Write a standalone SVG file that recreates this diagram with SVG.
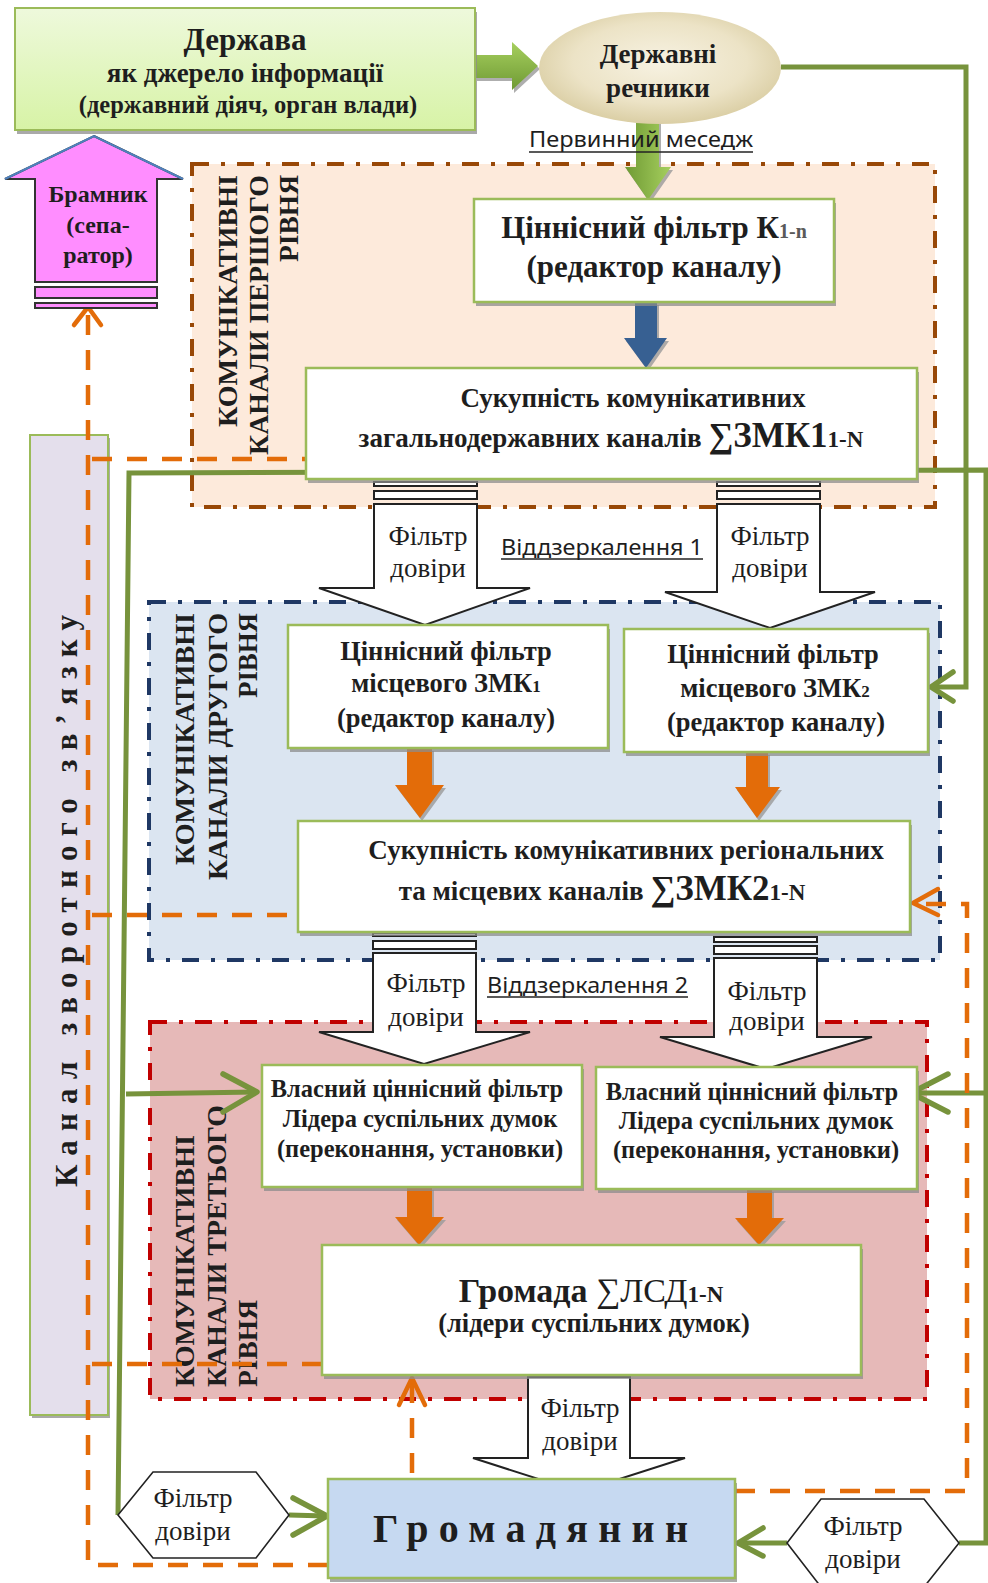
<svg xmlns="http://www.w3.org/2000/svg" width="988" height="1583" viewBox="0 0 988 1583">
<defs>
<linearGradient id="gDerzh" x1="0" y1="0" x2="0" y2="1"><stop offset="0" stop-color="#eef9dc"/><stop offset="1" stop-color="#d7f3a6"/></linearGradient>
<radialGradient id="gEll" cx="0.5" cy="0.45" r="0.6"><stop offset="0" stop-color="#f7f2e2"/><stop offset="0.6" stop-color="#ece3c6"/><stop offset="1" stop-color="#d6c99c"/></radialGradient>
<linearGradient id="gGreenH" x1="0" y1="0" x2="0" y2="1"><stop offset="0" stop-color="#a6cf5e"/><stop offset="1" stop-color="#6f9a34"/></linearGradient>
<linearGradient id="gGreenV" x1="0" y1="0" x2="1" y2="0"><stop offset="0" stop-color="#6f9a34"/><stop offset="1" stop-color="#a6cf5e"/></linearGradient>
<style>
.box{fill:#fff;stroke:#9bbb59;stroke-width:2.5}
.sh{fill:#8c8c8c;opacity:0.75}
.ash{fill:#9a9a9a;opacity:0.8}
.tb{font-family:"Liberation Serif","Times New Roman",serif;font-weight:bold;fill:#1e1e1e}
.tr{font-family:"Liberation Serif","Times New Roman",serif;fill:#1e1e1e}
.ts{font-family:"Noto Sans","Liberation Sans",sans-serif;fill:#1e1e1e}
.reg{stroke-width:4;stroke-dasharray:17 12 4 12}
.g{stroke:#77933c;stroke-width:5;fill:none}
.gh{stroke:#77933c;stroke-width:5.5;fill:none;stroke-linecap:round;stroke-linejoin:round}
.o{stroke:#e36c09;stroke-width:4.5;fill:none;stroke-dasharray:20 15}
.oh{stroke:#e36c09;stroke-width:4.5;fill:none;stroke-linecap:round;stroke-linejoin:round}
.fa{fill:#fff;stroke:#222;stroke-width:2}
.ul{stroke:#222;stroke-width:1.6}
.orange{fill:#e36c09}
</style>
</defs>

<!-- regions -->
<g id="region1">
<rect x="192" y="164" width="743" height="343" fill="#fdeadb" stroke="#984807" class="reg"/>
<text class="tb" font-size="27" text-anchor="end" transform="translate(237,175) rotate(-90)" textLength="252" lengthAdjust="spacingAndGlyphs">КОМУНІКАТИВНІ</text>
<text class="tb" font-size="27" text-anchor="end" transform="translate(268,175) rotate(-90)" textLength="280" lengthAdjust="spacingAndGlyphs">КАНАЛИ ПЕРШОГО</text>
<text class="tb" font-size="27" text-anchor="end" transform="translate(298,175) rotate(-90)" textLength="87" lengthAdjust="spacingAndGlyphs">РІВНЯ</text>
</g>
<g id="region2">
<rect x="149" y="602" width="791" height="358" fill="#dbe5f1" stroke="#1f3864" class="reg"/>
<text class="tb" font-size="27" text-anchor="end" transform="translate(194,613) rotate(-90)" textLength="252" lengthAdjust="spacingAndGlyphs">КОМУНІКАТИВНІ</text>
<text class="tb" font-size="27" text-anchor="end" transform="translate(227,613) rotate(-90)" textLength="267" lengthAdjust="spacingAndGlyphs">КАНАЛИ ДРУГОГО</text>
<text class="tb" font-size="27" text-anchor="end" transform="translate(257,613) rotate(-90)" textLength="85" lengthAdjust="spacingAndGlyphs">РІВНЯ</text>
</g>
<g id="region3">
<rect x="150" y="1022" width="777" height="377" fill="#e6b9b8" stroke="#c00000" class="reg"/>
<text class="tb" font-size="27" transform="translate(194,1387) rotate(-90)" textLength="252" lengthAdjust="spacingAndGlyphs">КОМУНІКАТИВНІ</text>
<text class="tb" font-size="27" transform="translate(226,1387) rotate(-90)" textLength="282" lengthAdjust="spacingAndGlyphs">КАНАЛИ ТРЕТЬОГО</text>
<text class="tb" font-size="27" transform="translate(257,1387) rotate(-90)" textLength="87" lengthAdjust="spacingAndGlyphs">РІВНЯ</text>
</g>

<g id="feedback-channel">
<rect x="32" y="438" width="78" height="980" class="sh"/>
<rect x="30" y="435" width="78" height="980" fill="#e4dfec" stroke="#9bbb59" stroke-width="2"/>
<text class="tb" font-size="31" text-anchor="middle" transform="translate(77,901) rotate(-90)" textLength="572" lengthAdjust="spacing">Канал зворотного зв’язку</text>
</g>

<!-- connectors -->
<g id="connectors">
<polyline class="g" points="781,67 966,67 966,687 932,687"/>
<polyline class="gh" points="953,672 931,687 953,701"/>
<polyline class="g" points="118,1515 129,473 986,470 986,1543 959,1543"/>
<line class="g" x1="126" y1="1094" x2="256" y2="1092"/>
<polyline class="gh" points="223,1074 257,1092 223,1112"/>
<line class="g" x1="986" y1="1093" x2="912" y2="1093"/>
<polyline class="gh" points="948,1074 911,1093 948,1112"/>
<line class="g" x1="289" y1="1515" x2="326" y2="1516"/>
<polyline class="gh" points="293,1498 327,1516 293,1535"/>
<line class="g" x1="787" y1="1543" x2="739" y2="1543"/>
<polyline class="gh" points="763,1528 738,1543 763,1556"/>

<polyline class="o" points="328,1565 88,1565 88,312"/>
<polyline class="oh" points="74,325 88,307 101,325"/>
<line class="o" x1="92" y1="459" x2="306" y2="459"/>
<line class="o" x1="92" y1="915" x2="298" y2="915"/>
<line class="o" x1="92" y1="1364" x2="322" y2="1364"/>
<polyline class="o" points="735,1491 967,1491 967,904 914,904"/>
<polyline class="oh" points="938,889 913,903 938,915"/>
<line class="o" x1="412" y1="1473" x2="412" y2="1380"/>
<polyline class="oh" points="399,1405 412,1378 425,1405"/>
</g>

<!-- block arrows -->
<g id="block-arrows">
<path class="ash" d="M477,58 H514 V45 L540,69 L514,93 V81 H477 Z"/>
<path fill="url(#gGreenH)" d="M475,55 H512 V42 L538,66 L512,90 V78 H475 Z"/>
<path class="ash" d="M638,118 H661 V170 H673 L650,203 L627,170 H638 Z"/>
<path fill="url(#gGreenV)" d="M636,115 H659 V167 H671 L648,200 L625,167 H636 Z"/>
<path class="ash" d="M637,305 H659 V341 H669 L648,371 L626,341 H637 Z"/>
<path fill="#376092" d="M635,302 H657 V338 H667 L646,368 L624,338 H635 Z"/>
<path class="ash" d="M409,751 H434 V788 H446 L422,821 L397,788 H409 Z"/>
<path class="orange" d="M407,748 H432 V785 H444 L420,818 L395,785 H407 Z"/>
<path class="ash" d="M748,755 H770 V790 H782 L759,821 L737,790 H748 Z"/>
<path class="orange" d="M746,752 H768 V787 H780 L757,818 L735,787 H746 Z"/>
<path class="ash" d="M409,1190 H434 V1220 H446 L421,1248 L397,1220 H409 Z"/>
<path class="orange" d="M407,1187 H432 V1217 H444 L419,1245 L395,1217 H407 Z"/>
<path class="ash" d="M749,1192 H774 V1221 H786 L761,1248 L737,1221 H749 Z"/>
<path class="orange" d="M747,1189 H772 V1218 H784 L759,1245 L735,1218 H747 Z"/>
</g>

<!-- filter arrows -->
<g id="filter-1-left">
<rect x="374" y="482" width="103" height="4" class="fa"/>
<rect x="374" y="491" width="103" height="8" class="fa"/>
<path class="fa" d="M374,504 H477 V588 H530 L425,625 L319,588 H374 Z"/>
<text class="tr" font-size="27" text-anchor="middle" x="428" y="545">Фільтр</text>
<text class="tr" font-size="27" text-anchor="middle" x="428" y="577">довіри</text>
</g>
<g id="filter-1-right">
<rect x="717" y="482" width="103" height="4" class="fa"/>
<rect x="717" y="491" width="103" height="8" class="fa"/>
<path class="fa" d="M717,504 H820 V592 H875 L770,628 L665,592 H717 Z"/>
<text class="tr" font-size="27" text-anchor="middle" x="770" y="545">Фільтр</text>
<text class="tr" font-size="27" text-anchor="middle" x="770" y="577">довіри</text>
</g>
<g id="filter-2-left">
<rect x="373" y="933" width="103" height="3" class="fa"/>
<rect x="373" y="941" width="103" height="8" class="fa"/>
<path class="fa" d="M373,953 H476 V1032 H530 L424,1064 L319,1032 H373 Z"/>
<text class="tr" font-size="27" text-anchor="middle" x="426" y="992">Фільтр</text>
<text class="tr" font-size="27" text-anchor="middle" x="426" y="1026">довіри</text>
</g>
<g id="filter-2-right">
<rect x="714" y="937" width="103" height="5" class="fa"/>
<rect x="714" y="946" width="103" height="8" class="fa"/>
<path class="fa" d="M714,958 H817 V1037 H872 L766,1069 L660,1037 H714 Z"/>
<text class="tr" font-size="27" text-anchor="middle" x="767" y="1000">Фільтр</text>
<text class="tr" font-size="27" text-anchor="middle" x="767" y="1030">довіри</text>
</g>
<g id="filter-3">
<rect x="528" y="1356" width="102" height="4" class="fa"/>
<rect x="528" y="1364" width="102" height="9" class="fa"/>
<path class="fa" d="M528,1377 H630 V1458 H685 L579,1492 L473,1458 H528 Z"/>
<text class="tr" font-size="27" text-anchor="middle" x="580" y="1417">Фільтр</text>
<text class="tr" font-size="27" text-anchor="middle" x="580" y="1450">довіри</text>
</g>

<!-- nodes -->
<g id="derzhava">
<rect x="17" y="12" width="460" height="122" class="sh"/>
<rect x="15" y="8" width="460" height="122" fill="url(#gDerzh)" stroke="#9bbb59" stroke-width="2"/>
<text class="tb" font-size="31" text-anchor="middle" x="245" y="50">Держава</text>
<text class="tb" font-size="27" text-anchor="middle" x="245" y="82">як джерело інформації</text>
<text class="tb" font-size="24.5" text-anchor="middle" x="248" y="113">(державний діяч, орган влади)</text>
</g>

<g id="bramnyk">
<path d="M94,136 L183,179 H157 V282 H35 V179 H5 Z" fill="#ff8dff" stroke="#333" stroke-width="2"/>
<polyline points="5,179 94,136 183,179" fill="none" stroke="#4f81bd" stroke-width="2"/>
<rect x="35" y="287" width="122" height="11" fill="#ff8dff" stroke="#333" stroke-width="2"/>
<rect x="35" y="303" width="122" height="5" fill="#ff8dff" stroke="#333" stroke-width="2"/>
<text class="tb" font-size="24" text-anchor="middle" x="98" y="202">Брамник</text>
<text class="tb" font-size="24" text-anchor="middle" x="98" y="233">(сепа-</text>
<text class="tb" font-size="24" text-anchor="middle" x="98" y="263">ратор)</text>
</g>

<g id="rechnyky">
<ellipse cx="660" cy="68" rx="121" ry="56" fill="url(#gEll)"/>
<text class="tb" font-size="27" text-anchor="middle" x="658" y="63">Державні</text>
<text class="tb" font-size="27" text-anchor="middle" x="658" y="97">речники</text>
</g>

<g id="filter-k">
<rect x="476" y="203" width="360" height="103" class="sh"/>
<rect x="474" y="199" width="360" height="103" class="box"/>
<text class="tb" font-size="31" text-anchor="middle" x="654" y="238">Ціннісний фільтр К<tspan font-size="20" fill="#5a5a5a">1-n</tspan></text>
<text class="tb" font-size="31" text-anchor="middle" x="654" y="277">(редактор каналу)</text>
</g>

<g id="zmk1">
<rect x="308" y="372" width="611" height="111" class="sh"/>
<rect x="306" y="368" width="611" height="111" class="box"/>
<text class="tb" font-size="27" text-anchor="middle" x="633" y="407">Сукупність комунікативних</text>
<text class="tb" font-size="27" text-anchor="middle" x="611" y="447">загальнодержавних каналів <tspan font-size="35">∑ЗМК1</tspan><tspan font-size="23">1-N</tspan></text>
</g>

<g id="local-zmk1">
<rect x="290" y="629" width="320" height="123" class="sh"/>
<rect x="288" y="625" width="320" height="123" class="box"/>
<text class="tb" font-size="26.5" text-anchor="middle" x="446" y="660">Ціннісний фільтр</text>
<text class="tb" font-size="26.5" text-anchor="middle" x="446" y="692">місцевого ЗМК<tspan font-size="17">1</tspan></text>
<text class="tb" font-size="26.5" text-anchor="middle" x="446" y="727">(редактор каналу)</text>
</g>

<g id="local-zmk2">
<rect x="626" y="633" width="304" height="123" class="sh"/>
<rect x="624" y="629" width="304" height="123" class="box"/>
<text class="tb" font-size="26.5" text-anchor="middle" x="773" y="663">Ціннісний фільтр</text>
<text class="tb" font-size="26.5" text-anchor="middle" x="775" y="697">місцевого ЗМК<tspan font-size="17">2</tspan></text>
<text class="tb" font-size="26.5" text-anchor="middle" x="776" y="731">(редактор каналу)</text>
</g>

<g id="zmk2">
<rect x="300" y="825" width="612" height="111" class="sh"/>
<rect x="298" y="821" width="612" height="111" class="box"/>
<text class="tb" font-size="27" text-anchor="middle" x="626" y="859">Сукупність комунікативних регіональних</text>
<text class="tb" font-size="27" text-anchor="middle" x="602" y="900">та місцевих каналів <tspan font-size="35">∑ЗМК2</tspan><tspan font-size="23">1-N</tspan></text>
</g>

<g id="leader-left">
<rect x="264" y="1069" width="320" height="122" class="sh"/>
<rect x="262" y="1065" width="320" height="122" class="box"/>
<text class="tb" font-size="24.5" text-anchor="middle" x="417" y="1097">Власний ціннісний фільтр</text>
<text class="tb" font-size="24.5" text-anchor="middle" x="420" y="1127">Лідера суспільних думок</text>
<text class="tb" font-size="24.5" text-anchor="middle" x="420" y="1157">(переконання, установки)</text>
</g>

<g id="leader-right">
<rect x="598" y="1071" width="321" height="122" class="sh"/>
<rect x="596" y="1067" width="321" height="122" class="box"/>
<text class="tb" font-size="24.5" text-anchor="middle" x="752" y="1100">Власний ціннісний фільтр</text>
<text class="tb" font-size="24.5" text-anchor="middle" x="756" y="1129">Лідера суспільних думок</text>
<text class="tb" font-size="24.5" text-anchor="middle" x="756" y="1158">(переконання, установки)</text>
</g>

<g id="hromada">
<rect x="324" y="1249" width="539" height="130" class="sh"/>
<rect x="322" y="1245" width="539" height="130" class="box"/>
<text class="tb" font-size="34" text-anchor="middle" x="591" y="1302">Громада <tspan font-weight="normal">∑ЛСД</tspan><tspan font-size="23">1-N</tspan></text>
<text class="tb" font-size="26.5" text-anchor="middle" x="594" y="1332">(лідери суспільних думок)</text>
</g>

<g id="hromadianyn">
<rect x="330" y="1483" width="407" height="99" class="sh"/>
<rect x="328" y="1479" width="407" height="99" fill="#c6d9f1" stroke="#9bbb59" stroke-width="2.5"/>
<text class="tb" font-size="40" x="373" y="1542" textLength="315" lengthAdjust="spacing">Громадянин</text>
</g>

<g id="hex-left">
<polygon points="118,1515 153,1472 256,1472 289,1515 256,1558 153,1558" fill="#fff" stroke="#222" stroke-width="1.6"/>
<text class="tr" font-size="27" text-anchor="middle" x="193" y="1507">Фільтр</text>
<text class="tr" font-size="27" text-anchor="middle" x="193" y="1540">довіри</text>
</g>

<g id="hex-right">
<polygon points="787,1543 821,1499 924,1499 959,1543 924,1587 821,1587" fill="#fff" stroke="#222" stroke-width="1.6"/>
<text class="tr" font-size="27" text-anchor="middle" x="863" y="1535">Фільтр</text>
<text class="tr" font-size="27" text-anchor="middle" x="863" y="1568">довіри</text>
</g>

<!-- labels -->
<g id="labels">
<text class="ts" font-size="22" x="529" y="147" textLength="224" lengthAdjust="spacingAndGlyphs">Первинний меседж</text>
<line class="ul" x1="529" y1="152" x2="753" y2="152"/>
<text class="ts" font-size="22" x="501" y="555" textLength="202" lengthAdjust="spacingAndGlyphs">Віддзеркалення 1</text>
<line class="ul" x1="501" y1="559" x2="703" y2="559"/>
<text class="ts" font-size="22" x="487" y="993" textLength="201" lengthAdjust="spacingAndGlyphs">Віддзеркалення 2</text>
<line class="ul" x1="487" y1="997" x2="688" y2="997"/>
</g>
</svg>
